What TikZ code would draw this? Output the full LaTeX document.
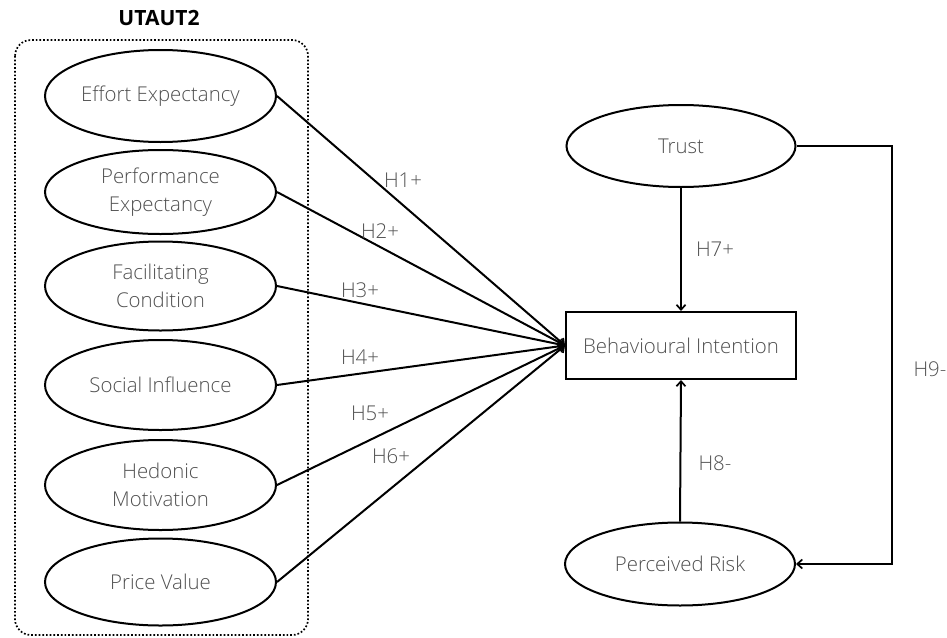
\documentclass[tikz,border=0pt]{standalone}
\usepackage{fontspec}
\setmainfont{Open Sans}[FontFace={l}{n}{Open Sans Light}]
\usetikzlibrary{shapes.geometric,arrows.meta}
\definecolor{txt}{HTML}{505050}
\tikzset{
  construct/.style={ellipse, draw=black, line width=2pt, inner sep=0pt,
    minimum width=231pt, text=txt, align=center, font=\fontsize{20.4}{28}\fontseries{l}\selectfont},
  bibox/.style={rectangle, draw=black, line width=2pt, inner sep=0pt,
    minimum width=230pt, minimum height=67pt, text=txt, font=\fontsize{20.4}{27}\fontseries{l}\selectfont},
  hyp/.style={text=txt, font=\fontsize{20.4}{22}\fontseries{l}\selectfont, inner sep=0pt},
  link/.style={draw=black, line width=2pt, -{Straight Barb[length=5pt,width=9pt,line width=1.7pt]}},
  group/.style={draw=black, line width=1.7pt, dotted, rounded corners=16pt}
}
\begin{document}
\begin{tikzpicture}[x=1pt,y=-1pt]
\useasboundingbox (0,0) rectangle (947,637);
% group box
\draw[group] (15,40) rectangle (308,635);
\node[font=\fontsize{21}{24}\selectfont\bfseries, text=black, inner sep=0pt] (title) at (159,18) {UTAUT2};
% left constructs
\node[construct, minimum height=92pt] (ee) at (160.5,96) {Effort Expectancy};
\node[construct, minimum height=84pt] (pe) at (160.5,192) {Performance\\Expectancy};
\node[construct, minimum height=89pt] (fc) at (160.5,286) {Facilitating\\Condition};
\node[construct, minimum height=90pt] (si) at (160.5,385) {Social Influence};
\node[construct, minimum height=90pt] (hm) at (160.5,485) {Hedonic\\Motivation};
\node[construct, minimum height=87pt] (pv) at (160.5,582) {Price Value};
% right constructs
\node[bibox] (bi) at (681,345.5) {Behavioural Intention};
\node[construct, minimum width=229pt, minimum height=82pt] (tr) at (681,146) {Trust};
\node[construct, minimum width=230pt, minimum height=83pt] (pr) at (680,564) {Perceived Risk};
\coordinate (corner) at (892,0);
% connectors
\draw[link] (ee.east) -- (bi.west);
\draw[link] (pe.east) -- (bi.west);
\draw[link] (fc.east) -- (bi.west);
\draw[link] (si.east) -- (bi.west);
\draw[link] (hm.east) -- (bi.west);
\draw[link] (pv.east) -- (bi.west);
\draw[link] (tr.south) -- (bi.north);
\draw[link] (pr.north) -- (bi.south);
\draw[link] (tr.east) -| (corner |- pr.east) -- (pr.east);
% labels
\node[hyp] (h1) at (403,180) {H1+};
\node[hyp] (h2) at (380,231) {H2+};
\node[hyp] (h3) at (360,290) {H3+};
\node[hyp] (h4) at (360,357) {H4+};
\node[hyp] (h5) at (370,413) {H5+};
\node[hyp] (h6) at (391,456) {H6+};
\node[hyp] (h7) at (715,249) {H7+};
\node[hyp] (h8) at (715,463) {H8-};
\node[hyp] (h9) at (930,369) {H9-};
\end{tikzpicture}
\end{document}
